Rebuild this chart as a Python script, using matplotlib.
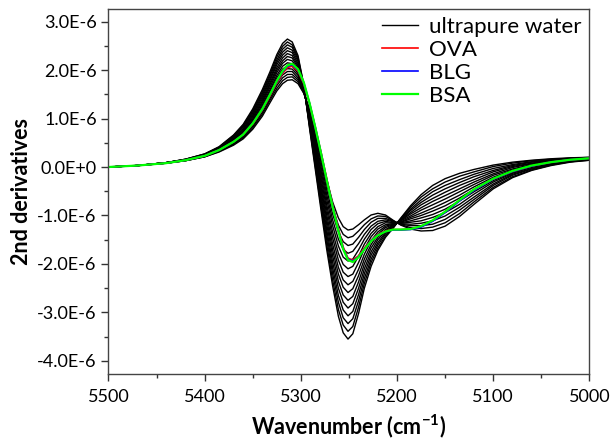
import matplotlib
matplotlib.use('Agg')
import matplotlib.pyplot as plt
import numpy as np
from matplotlib.ticker import FuncFormatter, MultipleLocator

plt.rcParams['font.family'] = ['Lato', 'DejaVu Sans']
plt.rcParams['mathtext.fontset'] = 'custom'
plt.rcParams['mathtext.rm'] = 'Lato'
plt.rcParams['mathtext.bf'] = 'Lato:bold'

# wavenumber grid (cm-1) shared by all spectra
wavenumber = [5500, 5470, 5440, 5420, 5400, 5385, 5370, 5360, 5350, 5340, 5332,
              5325, 5319, 5314, 5309, 5303, 5297, 5291, 5285, 5279, 5273, 5267,
              5261, 5256, 5251, 5246, 5240, 5234, 5227, 5220, 5212, 5204, 5196,
              5186, 5175, 5163, 5150, 5135, 5120, 5100, 5080, 5060, 5040, 5020, 5000]

# 2nd derivative values in units of 1E-6, one row per ultrapure water spectrum
water = [
    [0.00, 0.03, 0.08, 0.13, 0.21, 0.31, 0.45, 0.58, 0.78, 1.05, 1.33, 1.57, 1.72, 1.79, 1.80, 1.72, 1.52, 1.20, 0.75, 0.25, -0.27, -0.72, -1.05, -1.23, -1.30, -1.28, -1.19, -1.09, -0.99, -0.955, -0.99, -1.10, -1.20, -1.28, -1.32, -1.31, -1.22, -1.02, -0.77, -0.45, -0.22, -0.07, 0.03, 0.10, 0.14],
    [0.00, 0.03, 0.08, 0.13, 0.21, 0.32, 0.47, 0.60, 0.81, 1.09, 1.38, 1.62, 1.78, 1.85, 1.86, 1.76, 1.53, 1.17, 0.69, 0.17, -0.37, -0.84, -1.20, -1.39, -1.46, -1.43, -1.32, -1.19, -1.07, -1.01, -1.02, -1.11, -1.19, -1.25, -1.27, -1.24, -1.15, -0.96, -0.72, -0.42, -0.20, -0.06, 0.04, 0.11, 0.14],
    [0.00, 0.03, 0.08, 0.13, 0.22, 0.33, 0.48, 0.62, 0.84, 1.13, 1.42, 1.68, 1.84, 1.91, 1.91, 1.80, 1.55, 1.14, 0.64, 0.09, -0.48, -0.97, -1.34, -1.54, -1.62, -1.59, -1.45, -1.29, -1.14, -1.06, -1.06, -1.12, -1.18, -1.21, -1.21, -1.18, -1.08, -0.89, -0.67, -0.38, -0.17, -0.04, 0.05, 0.11, 0.15],
    [0.00, 0.03, 0.08, 0.14, 0.22, 0.33, 0.50, 0.64, 0.87, 1.17, 1.47, 1.73, 1.90, 1.97, 1.97, 1.84, 1.56, 1.11, 0.58, 0.00, -0.58, -1.09, -1.49, -1.70, -1.78, -1.74, -1.58, -1.39, -1.22, -1.12, -1.09, -1.13, -1.17, -1.18, -1.16, -1.11, -1.01, -0.83, -0.62, -0.35, -0.15, -0.03, 0.06, 0.12, 0.15],
    [0.00, 0.03, 0.08, 0.14, 0.23, 0.34, 0.51, 0.67, 0.90, 1.21, 1.51, 1.78, 1.96, 2.03, 2.02, 1.89, 1.57, 1.09, 0.52, -0.08, -0.68, -1.21, -1.63, -1.86, -1.94, -1.90, -1.71, -1.49, -1.29, -1.17, -1.12, -1.15, -1.16, -1.14, -1.11, -1.04, -0.94, -0.77, -0.56, -0.31, -0.13, -0.01, 0.07, 0.13, 0.16],
    [0.00, 0.03, 0.08, 0.14, 0.23, 0.35, 0.53, 0.69, 0.93, 1.25, 1.56, 1.84, 2.02, 2.09, 2.08, 1.93, 1.58, 1.06, 0.46, -0.16, -0.79, -1.34, -1.78, -2.01, -2.10, -2.05, -1.84, -1.59, -1.37, -1.23, -1.15, -1.16, -1.15, -1.11, -1.05, -0.98, -0.87, -0.70, -0.51, -0.28, -0.11, 0.01, 0.08, 0.13, 0.16],
    [0.00, 0.03, 0.08, 0.14, 0.24, 0.36, 0.54, 0.71, 0.96, 1.29, 1.60, 1.89, 2.08, 2.15, 2.13, 1.97, 1.60, 1.03, 0.41, -0.24, -0.89, -1.46, -1.92, -2.17, -2.26, -2.21, -1.97, -1.69, -1.44, -1.28, -1.19, -1.17, -1.14, -1.07, -1.00, -0.91, -0.80, -0.64, -0.46, -0.24, -0.08, 0.02, 0.09, 0.14, 0.17],
    [0.00, 0.03, 0.09, 0.14, 0.24, 0.37, 0.56, 0.73, 0.99, 1.33, 1.65, 1.95, 2.14, 2.22, 2.19, 2.01, 1.61, 1.00, 0.35, -0.33, -1.00, -1.59, -2.07, -2.33, -2.43, -2.36, -2.11, -1.80, -1.52, -1.34, -1.22, -1.18, -1.13, -1.04, -0.95, -0.85, -0.73, -0.58, -0.41, -0.21, -0.06, 0.04, 0.10, 0.15, 0.17],
    [0.00, 0.03, 0.09, 0.15, 0.24, 0.37, 0.57, 0.75, 1.02, 1.36, 1.70, 2.00, 2.19, 2.28, 2.25, 2.05, 1.62, 0.97, 0.29, -0.41, -1.10, -1.71, -2.21, -2.48, -2.59, -2.51, -2.24, -1.90, -1.60, -1.39, -1.25, -1.19, -1.11, -1.01, -0.89, -0.78, -0.66, -0.51, -0.36, -0.17, -0.04, 0.05, 0.11, 0.15, 0.17],
    [0.00, 0.03, 0.09, 0.15, 0.25, 0.38, 0.59, 0.77, 1.05, 1.40, 1.74, 2.05, 2.25, 2.34, 2.30, 2.09, 1.64, 0.94, 0.24, -0.49, -1.20, -1.83, -2.36, -2.64, -2.75, -2.67, -2.37, -2.00, -1.67, -1.45, -1.29, -1.20, -1.10, -0.97, -0.84, -0.71, -0.59, -0.45, -0.31, -0.14, -0.01, 0.07, 0.12, 0.16, 0.18],
    [0.00, 0.03, 0.09, 0.15, 0.25, 0.39, 0.60, 0.79, 1.08, 1.44, 1.79, 2.11, 2.31, 2.40, 2.36, 2.13, 1.65, 0.91, 0.18, -0.57, -1.31, -1.96, -2.50, -2.79, -2.91, -2.82, -2.50, -2.10, -1.75, -1.50, -1.32, -1.21, -1.09, -0.94, -0.78, -0.65, -0.52, -0.38, -0.26, -0.10, 0.01, 0.08, 0.13, 0.16, 0.18],
    [0.00, 0.03, 0.09, 0.15, 0.26, 0.40, 0.62, 0.82, 1.11, 1.48, 1.83, 2.16, 2.37, 2.46, 2.41, 2.18, 1.66, 0.89, 0.12, -0.65, -1.41, -2.08, -2.65, -2.95, -3.07, -2.98, -2.63, -2.20, -1.82, -1.56, -1.35, -1.23, -1.08, -0.90, -0.73, -0.58, -0.45, -0.32, -0.20, -0.07, 0.03, 0.10, 0.14, 0.17, 0.19],
    [0.00, 0.03, 0.09, 0.16, 0.26, 0.40, 0.63, 0.84, 1.14, 1.52, 1.88, 2.21, 2.43, 2.52, 2.47, 2.22, 1.67, 0.86, 0.06, -0.74, -1.51, -2.20, -2.79, -3.11, -3.23, -3.13, -2.76, -2.30, -1.90, -1.61, -1.38, -1.24, -1.07, -0.87, -0.68, -0.51, -0.38, -0.26, -0.15, -0.03, 0.05, 0.11, 0.15, 0.18, 0.19],
    [0.00, 0.03, 0.09, 0.16, 0.27, 0.41, 0.65, 0.86, 1.17, 1.56, 1.92, 2.27, 2.49, 2.58, 2.52, 2.26, 1.69, 0.83, 0.01, -0.82, -1.62, -2.33, -2.94, -3.26, -3.39, -3.29, -2.89, -2.40, -1.97, -1.67, -1.42, -1.25, -1.06, -0.83, -0.62, -0.45, -0.31, -0.19, -0.10, 0.01, 0.08, 0.13, 0.16, 0.18, 0.20],
    [0.00, 0.03, 0.09, 0.16, 0.27, 0.42, 0.66, 0.88, 1.20, 1.60, 1.97, 2.32, 2.55, 2.64, 2.58, 2.30, 1.70, 0.80, -0.05, -0.90, -1.72, -2.45, -3.08, -3.42, -3.55, -3.44, -3.02, -2.50, -2.05, -1.72, -1.45, -1.26, -1.05, -0.80, -0.57, -0.38, -0.24, -0.13, -0.05, 0.04, 0.10, 0.14, 0.17, 0.19, 0.20],
]

# protein solutions, same grid and units
ova = [0.00, 0.03, 0.08, 0.14, 0.23, 0.35, 0.52, 0.67, 0.89, 1.18, 1.47, 1.74, 1.93, 2.05, 2.08, 1.98, 1.72, 1.31, 0.82, 0.30, -0.25, -0.78, -1.27, -1.65, -1.88, -1.92, -1.83, -1.67, -1.51, -1.39, -1.32, -1.29, -1.29, -1.28, -1.23, -1.11, -0.93, -0.69, -0.47, -0.25, -0.09, 0.02, 0.10, 0.15, 0.18]
blg = [0.00, 0.03, 0.08, 0.14, 0.23, 0.35, 0.52, 0.67, 0.90, 1.19, 1.49, 1.76, 1.96, 2.08, 2.11, 2.00, 1.74, 1.32, 0.82, 0.29, -0.27, -0.80, -1.30, -1.68, -1.90, -1.94, -1.85, -1.69, -1.52, -1.40, -1.33, -1.30, -1.30, -1.29, -1.24, -1.12, -0.94, -0.70, -0.48, -0.25, -0.09, 0.02, 0.10, 0.15, 0.18]
bsa = [0.00, 0.03, 0.08, 0.14, 0.23, 0.35, 0.52, 0.67, 0.90, 1.20, 1.50, 1.78, 1.98, 2.10, 2.13, 2.02, 1.75, 1.32, 0.82, 0.28, -0.28, -0.82, -1.32, -1.70, -1.92, -1.96, -1.86, -1.70, -1.53, -1.41, -1.33, -1.29, -1.29, -1.28, -1.22, -1.10, -0.92, -0.68, -0.46, -0.24, -0.08, 0.03, 0.10, 0.15, 0.18]

fig = plt.figure(figsize=(6.14, 4.43), dpi=100)
ax = fig.add_axes([0.1767, 0.1558, 0.7833, 0.8228])

x = np.array(wavenumber)
for i, row in enumerate(water):
    ax.plot(x, np.array(row) * 1e-6, color='black', lw=1.0,
            label='ultrapure water' if i == 0 else None)
ax.plot(x, np.array(ova) * 1e-6, color='#ff0000', lw=1.2, label='OVA')
ax.plot(x, np.array(blg) * 1e-6, color='#0000ff', lw=1.2, label='BLG')
ax.plot(x, np.array(bsa) * 1e-6, color='#00ff00', lw=1.6, label='BSA')

ax.set_xlim(5500, 5000)
ax.set_ylim(-4.27e-6, 3.25e-6)
ax.xaxis.set_major_locator(MultipleLocator(100))
ax.xaxis.set_minor_locator(MultipleLocator(50))
ax.yaxis.set_major_locator(MultipleLocator(1e-6))
ax.yaxis.set_minor_locator(MultipleLocator(0.5e-6))


def sci(v, pos):
    if abs(v) < 1e-12:
        return '0.0E+0'
    return '%.1fE-6' % (v / 1e-6)


ax.yaxis.set_major_formatter(FuncFormatter(sci))
ax.tick_params(which='both', direction='out', top=False, right=False,
               labelsize=13, colors='#333333', labelcolor='black')
ax.tick_params(which='major', length=5, width=1)
ax.tick_params(which='minor', length=3, width=1)
ax.tick_params(axis='x', pad=6)
for s in ax.spines.values():
    s.set_color('#444444')
    s.set_linewidth(1)

ax.set_ylabel('2nd derivatives', fontsize=15.5, fontweight='bold', labelpad=4)
ax.set_xlabel('Wavenumber (cm$^{\\mathbf{-1}}$)', fontsize=15.5, fontweight='bold', labelpad=5)

leg = ax.legend(loc='upper right', frameon=False, fontsize=16, handlelength=1.6,
                labelspacing=0.13, handletextpad=0.5, borderaxespad=0.1,
                borderpad=0.25)

plt.savefig('out.png', dpi=100)
